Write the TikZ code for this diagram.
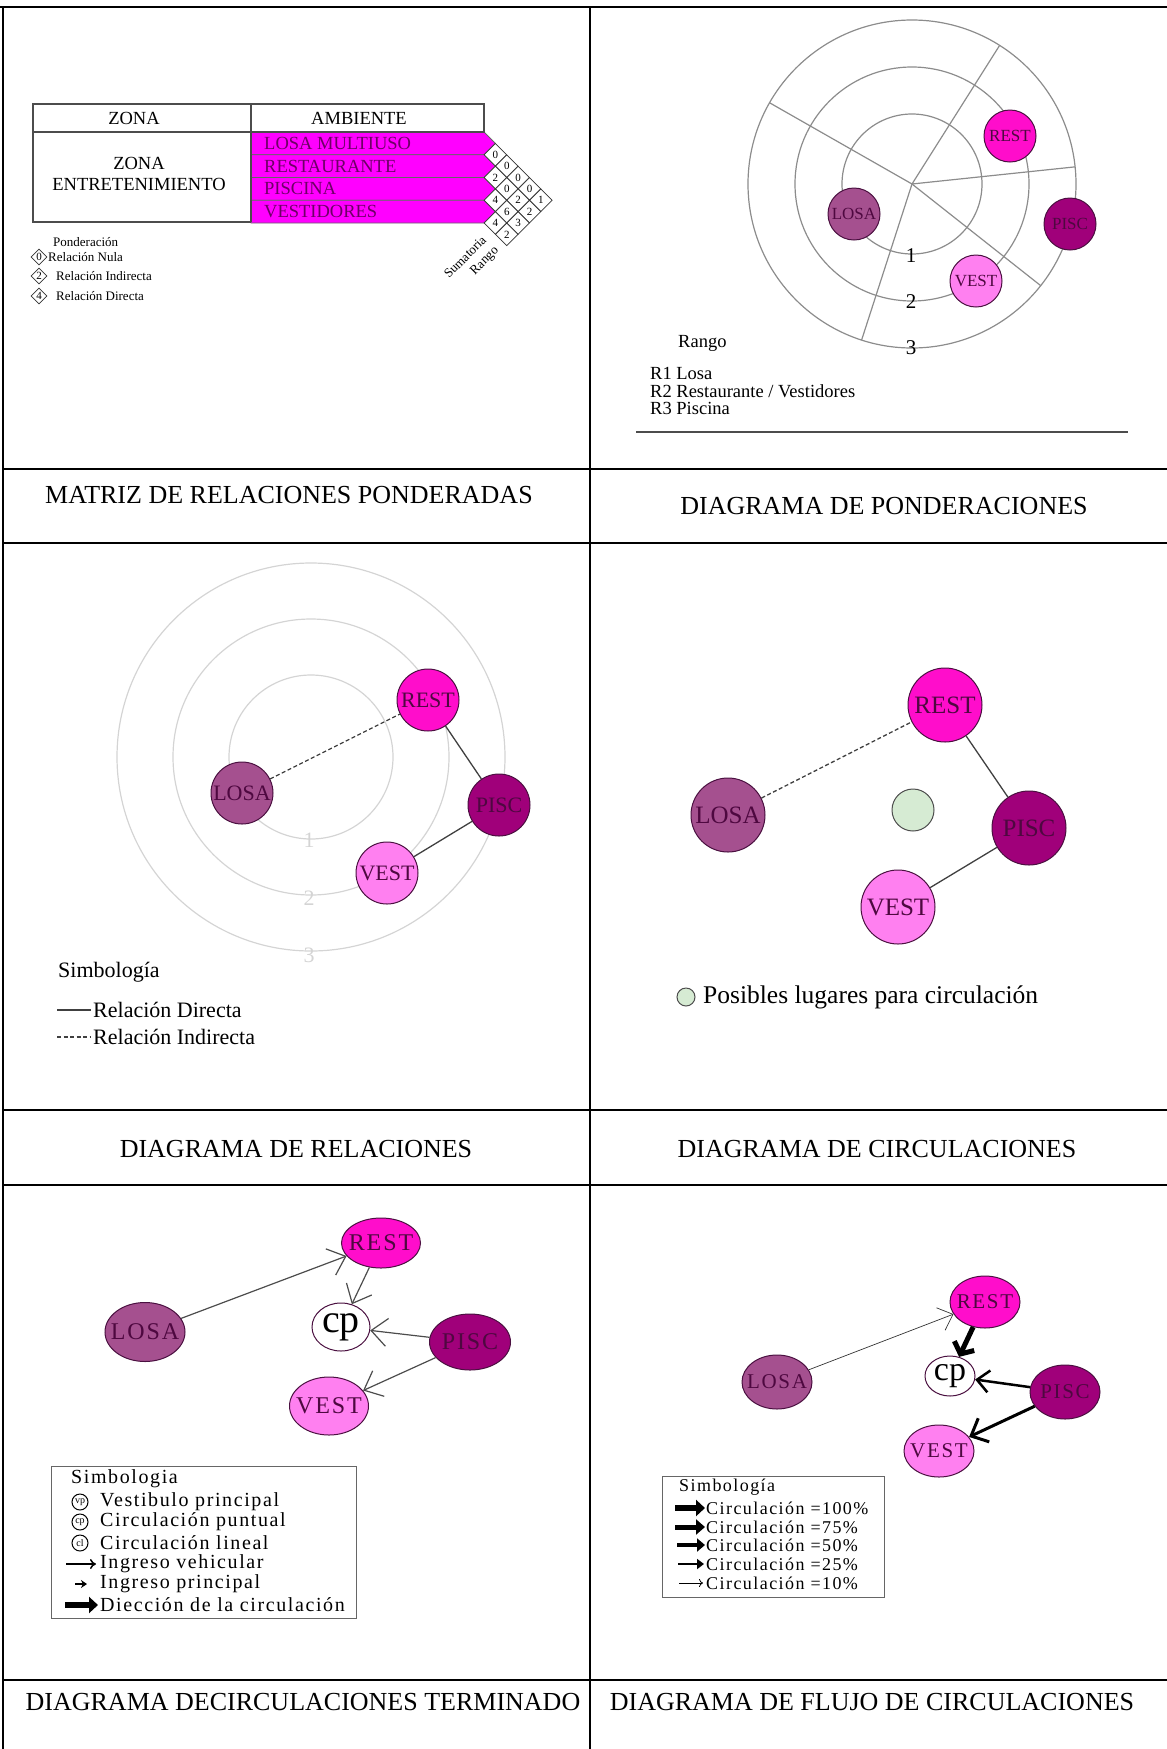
\documentclass[tikz,border=0pt]{standalone}
\usepackage{fontspec}
\setmainfont{Liberation Serif}
\newfontfamily\wideserif{Liberation Serif}[LetterSpace=8]
\usepackage{tikz}
\usetikzlibrary{shapes.geometric,arrows.meta,positioning,calc}

\definecolor{losacol}{HTML}{A5508F}
\definecolor{restcol}{HTML}{FF0DCB}
\definecolor{pisccol}{HTML}{A0007A}
\definecolor{vestcol}{HTML}{FF80F0}
\definecolor{rowmag}{HTML}{FF00FF}
\definecolor{rowtext}{HTML}{6E0066}
\definecolor{nodeedge}{HTML}{4A1040}
\definecolor{nodetext}{HTML}{4E0840}
\definecolor{ringgrey}{HTML}{8C8C8C}
\definecolor{paleringgrey}{HTML}{D4D4D4}
\definecolor{mintfill}{HTML}{D6EBD3}

\newcommand{\pxfont}[1]{\fontsize{#1}{#1}\selectfont}
\newcommand{\nm}[1]{\makebox[0pt]{#1}}

\begin{document}
\begin{tikzpicture}[x=1pt,y=-1pt,
  frame/.style={line width=2.5pt},
  ttl/.style={font=\pxfont{26}},
  tbl/.style={draw=black!70,line width=1.2pt},
  band/.style={fill=rowmag,draw=black!60,line width=0.8pt},
  rowtxt/.style={anchor=west,inner sep=0pt,text=rowtext,font=\pxfont{18.5}},
  cell/.style={diamond,draw=black!80,fill=white,line width=0.8pt,minimum size=22.75pt,inner sep=0pt,font=\pxfont{11}},
  keycell/.style={cell,minimum size=16pt},
  tag/.style={font=\pxfont{13},inner sep=0pt},
  ring/.style={draw=ringgrey,line width=1.2pt},
  pale/.style={draw=paleringgrey,line width=1.2pt},
  room/.style={circle,draw=nodeedge,line width=1pt,inner sep=0pt,text=nodetext},
  oval/.style={ellipse,draw=nodeedge,line width=1pt,inner sep=0pt,text=nodetext},
  link/.style={draw=black!75,line width=1.3pt},
  weak/.style={link,dash pattern=on 4pt off 2.5pt},
  route/.style={draw=black!70,line width=1.2pt,-{Straight Barb[length=16pt,width=28pt]}},
  note/.style={anchor=west,inner sep=0pt}]

  \useasboundingbox (0,0) rectangle (1167,1749);

  % outer grid of the sheet
  \draw[frame] (0,7) -- (1167,7);
  \draw[frame] (3,7) -- (3,1749);
  \draw[frame] (590,7) -- (590,1749);
  \foreach \y in {469,543,1110,1185,1680}
    \draw[frame] (3,\y) -- (1167,\y);

  % titles
  \node[ttl] (t1) at (289,495)  {MATRIZ DE RELACIONES PONDERADAS};
  \node[ttl] (t2) at (884,506)  {DIAGRAMA DE PONDERACIONES};
  \node[ttl] (t3) at (296,1149) {DIAGRAMA DE RELACIONES};
  \node[ttl] (t4) at (877,1149) {DIAGRAMA DE CIRCULACIONES};
  \node[ttl] (t5) at (303,1702) {DIAGRAMA DECIRCULACIONES TERMINADO};
  \node[ttl] (t6) at (872,1702) {DIAGRAMA DE FLUJO DE CIRCULACIONES};

  %% ---- matriz ----
  \foreach \r in {0,1,2,3}
    \filldraw[band] (251,{132+\r*22.75}) -- (484,{132+\r*22.75})
      -- (495.375,{143.375+\r*22.75}) -- (484,{154.75+\r*22.75})
      -- (251,{154.75+\r*22.75}) -- cycle;
  \draw[tbl] (33,104) rectangle (484,132);
  \draw[tbl] (33,132) -- (33,222) -- (251,222);
  \draw[tbl] (251,104) -- (251,222);

  \node[font=\pxfont{18.5}] (hzona) at (134,118) {ZONA};
  \node[font=\pxfont{18.5}] (hamb)  at (359,118) {AMBIENTE};
  \node[font=\pxfont{18.5},align=center,inner sep=0pt] (zona) at (139,174) {ZONA\\[3pt]ENTRETENIMIENTO};

  \node[rowtxt] (rlosa) at (264,143.4) {LOSA MULTIUSO};
  \node[rowtxt] (rrest) at (264,166.1) {RESTAURANTE};
  \node[rowtxt] (rpisc) at (264,188.9) {PISCINA};
  \node[rowtxt] (rvest) at (264,211.6) {VESTIDORES};

  % pair i/j -> diamond, columns 5 and 6 are sum and rank
  \foreach \i/\j/\v in {1/2/0,1/3/0,1/4/0,2/3/2,2/4/0,3/4/4,
                        1/5/0,2/5/2,3/5/6,4/5/4,1/6/1,2/6/2,3/6/3,4/6/2}
    \node[cell] (m\i\j) at ({484+(\j-\i)*11.375},{132+(\i+\j-1)*11.375}) {\v};

  \node[tag,rotate=45,anchor=east] (sumlbl)  at (484,238) {Sumatoria};
  \node[tag,rotate=45,anchor=east] (ranglbl) at (497,249) {Rango};

  % ponderacion key
  \node[note,font=\pxfont{13}] (pond) at (53,242) {Ponderación};
  \node[keycell] (k0) at (39,257) {0};
  \node[keycell] (k2) at (39,276) {2};
  \node[keycell] (k4) at (39,296) {4};
  \node[note,font=\pxfont{13}] (knula) at (48,257) {Relación Nula};
  \node[note,font=\pxfont{13}] (kind)  at (56,276) {Relación Indirecta};
  \node[note,font=\pxfont{13}] (kdir)  at (56,296) {Relación Directa};

  %% ---- ponderaciones ----
  \coordinate (hub2) at (912,184);
  \foreach \rr in {70,117,164}
    \draw[ring] (hub2) circle[radius=\rr pt];
  \foreach \a in {-57.7,-6,38.3,107.9,209.7}
    \draw[ring] (hub2) -- ++(\a:164);

  \node[font=\pxfont{21}] (n1) at (911,256) {1};
  \node[font=\pxfont{21}] (n2) at (911,302) {2};
  \node[font=\pxfont{21}] (n3) at (911,348) {3};

  \node[room,fill=restcol,minimum size=52pt,font=\pxfont{17}] (rest2) at (1010,136) {\nm{REST}};
  \node[room,fill=pisccol,minimum size=52pt,font=\pxfont{17}] (pisc2) at (1070,224) {\nm{PISC}};
  \node[room,fill=losacol,minimum size=52pt,font=\pxfont{17}] (losa2) at (854,214) {\nm{LOSA}};
  \node[room,fill=vestcol,minimum size=52pt,font=\pxfont{17}] (vest2) at (976,281) {\nm{VEST}};

  \node[note,font=\pxfont{18.5}] (rango) at (678,343) {Rango};
  \node[note,font=\pxfont{18.5}] (ra1) at (650,373) {R1 Losa};
  \node[note,font=\pxfont{18.5}] (ra2) at (650,391) {R2 Restaurante / Vestidores};
  \node[note,font=\pxfont{18.5}] (ra3) at (650,408) {R3 Piscina};
  \draw[draw=black!70,line width=1.2pt] (636,432) -- (1128,432);

  %% ---- relaciones ----
  \coordinate (hub3) at (311,757);
  \foreach \rr in {82,138,194}
    \draw[pale] (hub3) circle[radius=\rr pt];
  \node[font=\pxfont{22},text=paleringgrey] (g1) at (309,840) {1};
  \node[font=\pxfont{22},text=paleringgrey] (g2) at (309,898) {2};
  \node[font=\pxfont{22},text=paleringgrey] (g3) at (309,955) {3};

  \node[room,fill=restcol,minimum size=62pt,font=\pxfont{22}] (rest3) at (428,700) {\nm{REST}};
  \node[room,fill=losacol,minimum size=62pt,font=\pxfont{22}] (losa3) at (242,793) {\nm{LOSA}};
  \node[room,fill=pisccol,minimum size=62pt,font=\pxfont{22}] (pisc3) at (499,805) {\nm{PISC}};
  \node[room,fill=vestcol,minimum size=62pt,font=\pxfont{22}] (vest3) at (387,873) {\nm{VEST}};
  \draw[weak] (losa3) -- (rest3);
  \draw[link] (rest3) -- (pisc3);
  \draw[link] (pisc3) -- (vest3);

  \node[note,font=\pxfont{22}] (sym3) at (58,972) {Simbología};
  \node[note,font=\pxfont{22}] (rdir) at (93,1010) {Relación Directa};
  \node[note,font=\pxfont{22}] (rind) at (93,1037) {Relación Indirecta};
  \draw[link] ([xshift=-36pt]rdir.west) -- ([xshift=-2pt]rdir.west);
  \draw[weak] ([xshift=-36pt]rind.west) -- ([xshift=-2pt]rind.west);

  %% ---- circulaciones ----
  \node[room,fill=restcol,minimum size=74pt,font=\pxfont{25}] (rest4) at (945,705) {\nm{REST}};
  \node[room,fill=losacol,minimum size=74pt,font=\pxfont{25}] (losa4) at (728,815) {\nm{LOSA}};
  \node[room,fill=pisccol,minimum size=74pt,font=\pxfont{25}] (pisc4) at (1029,828) {\nm{PISC}};
  \node[room,fill=vestcol,minimum size=74pt,font=\pxfont{25}] (vest4) at (898,907) {\nm{VEST}};
  \node[circle,draw=black!70,line width=1pt,fill=mintfill,minimum size=42pt] (spot4) at (913,810) {};
  \draw[weak] (losa4) -- (rest4);
  \draw[link] (rest4) -- (pisc4);
  \draw[link] (pisc4) -- (vest4);

  \node[circle,draw=black!70,line width=1pt,fill=mintfill,minimum size=18pt,inner sep=0pt] (spotkey) at (686,997) {};
  \node[note,font=\pxfont{25.5}] (spottxt) at (703,997) {Posibles lugares para circulación};

  %% ---- circulaciones terminado ----
  \node[oval,fill=restcol,minimum width=79pt,minimum height=50pt,font=\wideserif\pxfont{24}] (rest5) at (381,1243) {\nm{REST}};
  \node[oval,fill=losacol,minimum width=80pt,minimum height=59pt,font=\wideserif\pxfont{24}] (losa5) at (145,1332) {\nm{LOSA}};
  \node[oval,fill=white,minimum width=58pt,minimum height=48pt,font=\pxfont{40},text=black] (cp5) at (341,1327) {\nm{cp}};
  \node[oval,fill=pisccol,minimum width=81pt,minimum height=56pt,font=\wideserif\pxfont{24}] (pisc5) at (470,1342) {\nm{PISC}};
  \node[oval,fill=vestcol,minimum width=79pt,minimum height=58pt,font=\wideserif\pxfont{24}] (vest5) at (329,1406) {\nm{VEST}};
  \draw[route] (losa5) -- (rest5);
  \draw[route] (rest5) -- (cp5);
  \draw[route] (pisc5) -- (cp5);
  \draw[route] (pisc5) -- (vest5);

  \draw[draw=black!60,line width=1pt] (51,1466) rectangle (356,1618);
  \node[note,font=\wideserif\pxfont{20}] (sym5) at (71,1479) {Simbologia};
  \node[note,font=\wideserif\pxfont{20}] (kvp)  at (100,1502) {Vestibulo principal};
  \node[note,font=\wideserif\pxfont{20}] (kcp)  at (100,1522) {Circulación puntual};
  \node[note,font=\wideserif\pxfont{20}] (kcl)  at (100,1543) {Circulación lineal};
  \node[note,font=\wideserif\pxfont{20}] (kveh) at (100,1564) {Ingreso vehicular};
  \node[note,font=\wideserif\pxfont{20}] (kpri) at (100,1584) {Ingreso principal};
  \node[note,font=\wideserif\pxfont{20}] (kdc)  at (100,1605) {Diección de la circulación};
  \node[circle,draw,line width=1pt,minimum size=16pt,inner sep=0pt,font=\pxfont{10}] (ivp) at (80,1502) {vp};
  \node[circle,draw,line width=1pt,minimum size=16pt,inner sep=0pt,font=\pxfont{10}] (icp) at (80,1522) {cp};
  \node[circle,draw,line width=1pt,minimum size=16pt,inner sep=0pt,font=\pxfont{10}] (icl) at (80,1543) {cl};
  \draw[line width=1.5pt,-{To[length=6pt,width=10pt]}] ([xshift=-34pt]kveh.west) -- ([xshift=-4pt]kveh.west);
  \draw[line width=1.4pt,-{Stealth[length=6pt,width=8pt]}] ([xshift=-25pt]kpri.west) -- ([xshift=-13pt]kpri.west);
  \draw[line width=6pt,-{Triangle[length=9pt,width=16pt]}] ([xshift=-35pt]kdc.west) -- ([xshift=-2pt]kdc.west);

  %% ---- flujo de circulaciones ----
  \node[oval,fill=restcol,minimum width=70pt,minimum height=52pt,font=\wideserif\pxfont{21}] (rest6) at (985,1302) {\nm{REST}};
  \node[oval,fill=losacol,minimum width=70pt,minimum height=54pt,font=\wideserif\pxfont{21}] (losa6) at (777,1382) {\nm{LOSA}};
  \node[oval,fill=white,minimum width=50pt,minimum height=40pt,font=\pxfont{34},text=black] (cp6) at (950,1376) {\nm{cp}};
  \node[oval,fill=pisccol,minimum width=70pt,minimum height=54pt,font=\wideserif\pxfont{21}] (pisc6) at (1065,1392) {\nm{PISC}};
  \node[oval,fill=vestcol,minimum width=70pt,minimum height=52pt,font=\wideserif\pxfont{21}] (vest6) at (939,1451) {\nm{VEST}};
  \draw[draw=black!80,line width=0.7pt,-{Straight Barb[length=13pt,width=24pt]}] (losa6) -- (rest6);
  \draw[line width=5pt,-{Straight Barb[length=9pt,width=22pt]}] (rest6) -- (cp6);
  \draw[line width=2.5pt,-{Straight Barb[length=12pt,width=22pt]}] (pisc6) -- (cp6);
  \draw[line width=3pt,-{Straight Barb[length=14pt,width=26pt]}] (pisc6) -- (vest6);

  \draw[draw=black!60,line width=1pt] (662,1476) rectangle (884,1597);
  \node[note,font=\wideserif\pxfont{18}] (sym6) at (679,1487) {Simbología};
  \node[note,font=\wideserif\pxfont{18}] (c100) at (706,1508) {Circulación =100\%};
  \node[note,font=\wideserif\pxfont{18}] (c75)  at (706,1527) {Circulación =75\%};
  \node[note,font=\wideserif\pxfont{18}] (c50)  at (706,1545) {Circulación =50\%};
  \node[note,font=\wideserif\pxfont{18}] (c25)  at (706,1564) {Circulación =25\%};
  \node[note,font=\wideserif\pxfont{18}] (c10)  at (706,1583) {Circulación =10\%};
  \draw[line width=6pt,-{Triangle[length=9pt,width=16pt]}] ([xshift=-31pt]c100.west) -- ([xshift=-1pt]c100.west);
  \draw[line width=5pt,-{Triangle[length=9pt,width=15pt]}] ([xshift=-31pt]c75.west) -- ([xshift=-1pt]c75.west);
  \draw[line width=3.5pt,-{Triangle[length=8pt,width=13pt]}] ([xshift=-29pt]c50.west) -- ([xshift=-1pt]c50.west);
  \draw[line width=2.2pt,-{Triangle[length=7pt,width=10pt]}] ([xshift=-28pt]c25.west) -- ([xshift=-2pt]c25.west);
  \draw[line width=0.8pt,-{To[length=4pt,width=8pt]}] ([xshift=-27pt]c10.west) -- ([xshift=-3pt]c10.west);
\end{tikzpicture}
\end{document}
